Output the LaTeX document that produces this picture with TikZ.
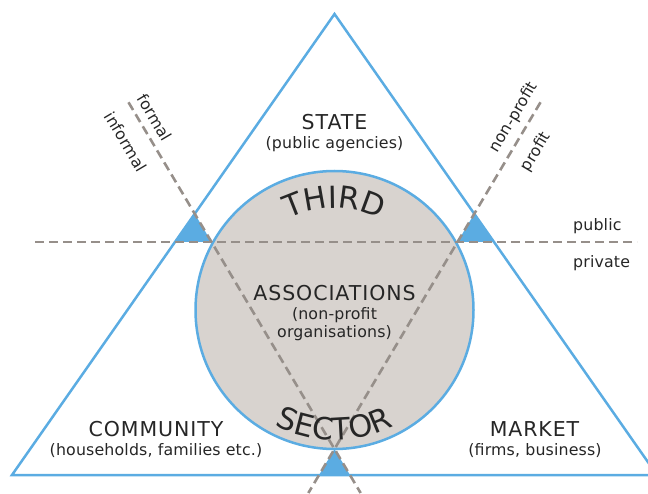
\documentclass[tikz,border=0pt]{standalone}
\usepackage{fontspec}
\setmainfont{DejaVu Sans}
\newfontfamily\widefont[LetterSpace=4.5]{DejaVu Sans}
\newfontfamily\subfont[LetterSpace=1]{DejaVu Sans}
\usetikzlibrary{calc,decorations.text}
\definecolor{tblue}{RGB}{91,172,226}
\definecolor{tfill}{RGB}{216,211,207}
\definecolor{tdash}{RGB}{150,143,138}
\definecolor{ttext}{RGB}{38,38,38}
\newcommand{\arcfont}{\fontsize{30.5}{31}\selectfont}
\begin{document}
\begin{tikzpicture}[x=1pt,y=1pt,
  outline/.style={draw=tblue, line width=2.5pt, line join=miter},
  divider/.style={draw=tdash, line width=2.6pt, dash pattern=on 9pt off 5pt},
  corner/.style={fill=tblue},
  big/.style={font=\widefont\fontsize{20.5}{24}\selectfont, text=ttext, inner sep=0pt},
  small/.style={font=\subfont\fontsize{15.8}{18}\selectfont, text=ttext, inner sep=0pt, align=center},
  tilted/.style={font=\subfont\fontsize{15.8}{18}\selectfont, text=ttext, inner sep=0pt},
]
\clip (0,0) rectangle (648,493);
% outer triangle corners
\coordinate (A) at (334.5,479);
\coordinate (BL) at (12,18);
\coordinate (BR) at (657,18);
% circle and inscribed triangle vertices
\coordinate (O) at (334.5,183);
\coordinate (B) at (334.5,44);
\coordinate (L) at (211.5,251);
\coordinate (R) at (457.5,251);
% dashed line ends
\coordinate (hl) at (35,251);
\coordinate (hr) at (637,251);
\coordinate (dl1) at ($(B)!1.675!(L)$);
\coordinate (dl2) at ($(B)!-0.2126!(L)$);
\coordinate (dr1) at ($(B)!1.675!(R)$);
\coordinate (dr2) at ($(B)!-0.2126!(R)$);

% circle
\node[circle, inner sep=0pt, minimum size=278pt, fill=tfill, draw=tblue, line width=2.5pt] (circ) at (O) {};
% outer triangle
\draw[outline] (A) -- (BL) -- (BR) -- cycle;
% blue corner triangles
\fill[corner] (L) -- (intersection of L--hl and A--BL) -- (intersection of B--dl1 and A--BL) -- cycle;
\fill[corner] (R) -- (intersection of R--hr and A--BR) -- (intersection of B--dr1 and A--BR) -- cycle;
\fill[corner] (B) -- (intersection of B--dl2 and BL--BR) -- (intersection of B--dr2 and BL--BR) -- cycle;
% dashed dividers
\draw[divider] (hl) -- (hr);
\draw[divider] (dl1) -- (dl2);
\draw[divider] (dr1) -- (dr2);

% arc texts
\path[decorate, decoration={text along path, text align=center, text color=ttext,
  text={|\arcfont|THIRD}}]
  ($(O)+(150:102pt)$) arc[start angle=150, end angle=30, radius=102pt];
\path[decorate, decoration={text along path, text align=center, text color=ttext,
  text={|\arcfont|SECTOR}}]
  ($(O)+(200:130pt)$) arc[start angle=200, end angle=340, radius=130pt];

% labels
\node[big, anchor=base] (state) at (334.5,363) {STATE};
\node[small, anchor=base] (statesub) at (334.5,344.5) {(public agencies)};
\node[big, anchor=base] (assoc) at (334.5,192) {ASSOCIATIONS};
\node[small, anchor=base] (assocsub1) at (334.5,173) {(non-profit};
\node[small, anchor=base] (assocsub2) at (334.5,155) {organisations)};
\node[big, anchor=base] (comm) at (156,56.3) {COMMUNITY};
\node[small, anchor=base] (commsub) at (156,38) {(households, families etc.)};
\node[big, anchor=base] (market) at (534.5,56.3) {MARKET};
\node[small, anchor=base] (marketsub) at (535,38) {(firms, business)};
\node[small, anchor=base west] (public) at (573,262) {public};
\node[small, anchor=base west] (private) at (573,225.5) {private};
\node[tilted, rotate=-59.3] (formal) at (155,375.5) {formal};
\node[tilted, rotate=-59.3] (informal) at (126,351.3) {informal};
\node[tilted, rotate=59.3] (nonprofit) at (514,375.5) {non-profit};
\node[tilted, rotate=59.3] (profit) at (536,341) {profit};
\end{tikzpicture}
\end{document}
